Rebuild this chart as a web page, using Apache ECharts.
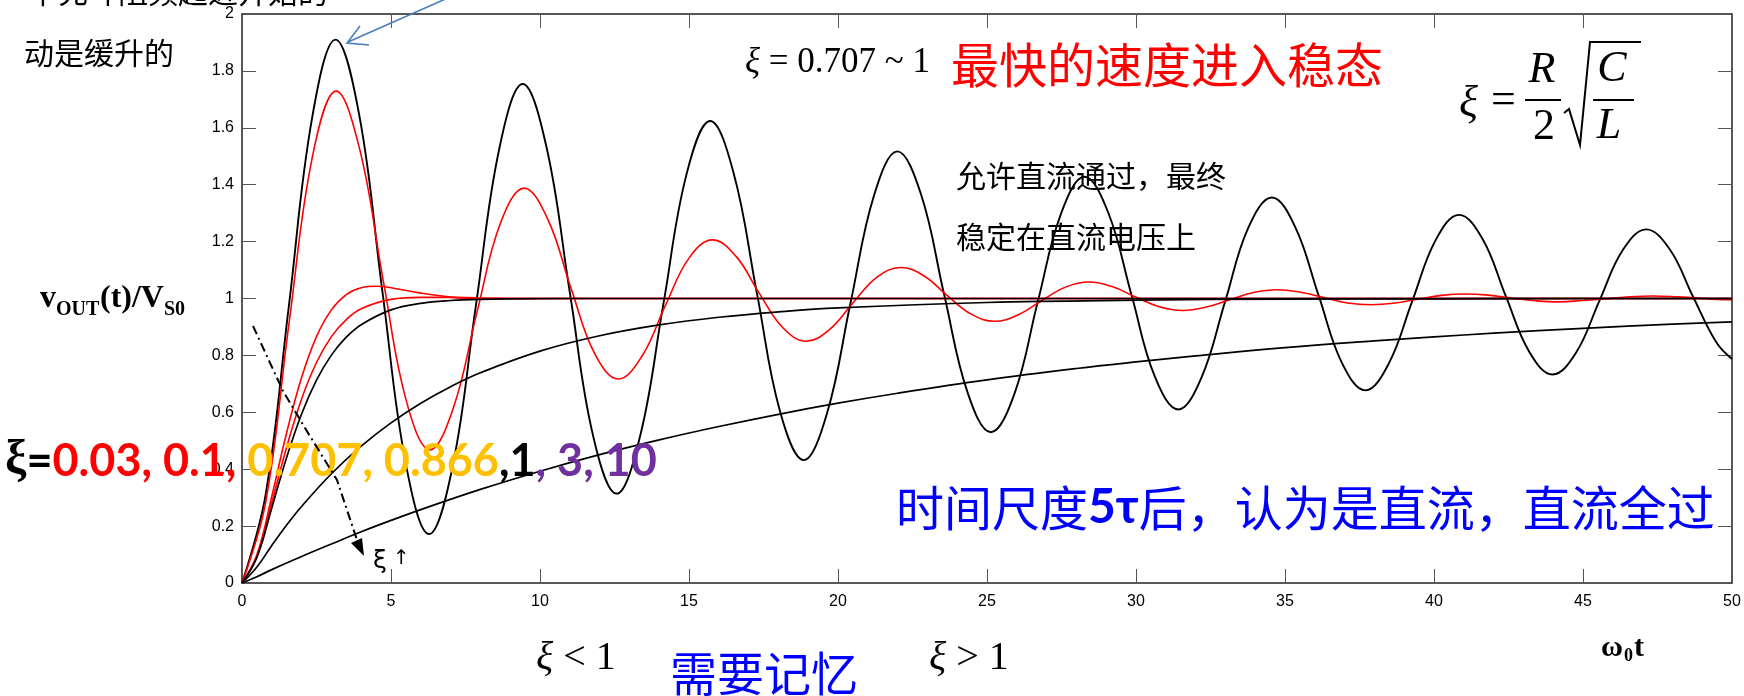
<!DOCTYPE html>
<html>
<head>
<meta charset="utf-8">
<script src="https://cdn.jsdelivr.net/npm/echarts@6/dist/echarts.min.js"></script>
<style>
  html, body { margin: 0; padding: 0; background: #ffffff; }
  #chart { width: 1744px; height: 696px; }
</style>
</head>
<body>
<div id="chart"></div>
<script>
// Step response of a series RLC circuit, vOUT(t)/VS0 against ω0·t, for several damping ratios ξ.

// ξ = 0.03
const t_xi003 = [0,0.79,1.57,2.36,3.14,3.93,4.71,5.50,6.28,7.07,7.85,8.64,9.42,10.21,11.00,11.78,12.57,13.35,14.14,14.92,15.71,16.49,17.28,18.06,18.85,19.63,20.42,21.21,21.99,22.78,23.56,24.35,25.13,25.92,26.70,27.49,28.27,29.06,29.85,30.63,31.42,32.20,32.99,33.77,34.56,35.34,36.13,36.91,37.70,38.48,39.27,40.06,40.84,41.63,42.41,43.20,43.98,44.77,45.55,46.34,47.12,47.91,48.69,49.48,50];
const v_xi003 = [0,0.309,0.971,1.639,1.910,1.647,1.026,0.418,0.172,0.411,0.976,1.530,1.754,1.536,1.022,0.518,0.314,0.512,0.980,1.438,1.624,1.444,1.018,0.601,0.432,0.596,0.984,1.363,1.517,1.368,1.015,0.669,0.530,0.665,0.987,1.300,1.428,1.304,1.012,0.726,0.610,0.723,0.989,1.249,1.355,1.252,1.010,0.774,0.677,0.771,0.991,1.206,1.294,1.209,1.008,0.812,0.733,0.810,0.992,1.171,1.243,1.173,1.007,0.845,0.787];

// ξ = 0.1
const t_xi01 = [0,0.79,1.58,2.37,3.16,3.95,4.74,5.53,6.31,7.10,7.89,8.68,9.47,10.26,11.05,11.84,12.63,13.42,14.21,15.00,15.79,16.58,17.36,18.15,18.94,19.73,20.52,21.31,22.10,22.89,23.68,24.47,25.26,26.05,26.84,27.63,28.42,29.20,29.99,30.78,31.57,32.36,33.15,33.94,34.73,35.52,36.31,37.10,37.89,38.68,39.47,40.25,41.04,41.83,42.62,43.41,44.20,44.99,45.78,46.57,47.36,48.15,48.94,49.73,50];
const v_xi01 = [0,0.281,0.914,1.502,1.729,1.524,1.063,0.634,0.468,0.618,0.954,1.267,1.388,1.279,1.033,0.805,0.717,0.797,0.976,1.142,1.206,1.148,1.018,0.897,0.850,0.892,0.987,1.075,1.109,1.079,1.009,0.945,0.920,0.943,0.993,1.040,1.058,1.042,1.005,0.971,0.958,0.970,0.996,1.021,1.031,1.022,1.003,0.984,0.978,0.984,0.998,1.011,1.016,1.012,1.001,0.992,0.988,0.993,0.999,1.006,1.009,1.006,1.001,0.996,0.996];

// ξ = 0.707
const t_xi0707 = [0,0.5,1,1.5,2,2.5,3,3.5,4,4.5,5,6,7,8,10,20,30,40,50];
const v_xi0707 = [0,0.099,0.305,0.529,0.722,0.866,0.960,1.014,1.038,1.043,1.038,1.019,1.005,0.999,1,1,1,1,1];

// ξ = 0.866
const t_xi0866 = [0,0.5,1,1.5,2,2.5,3,3.5,4,5,6,7,8,10,20,30,40,50];
const v_xi0866 = [0,0.094,0.282,0.478,0.647,0.775,0.866,0.926,0.964,0.997,1.004,1.004,1.002,1,1,1,1,1];

// ξ = 1
const t_xi1 = [0,0.5,1,1.5,2,2.5,3,3.5,4,5,6,7,8,10,12,20,30,40,50];
const v_xi1 = [0,0.090,0.264,0.442,0.594,0.713,0.801,0.864,0.908,0.960,0.983,0.993,0.997,0.9995,1,1,1,1,1];

// ξ = 3
const t_xi3 = [0,0.5,1,1.5,2,3,4,5,6,7,8,10,12,14,16,18,20,25,30,35,40,45,50];
const v_xi3 = [0,0.056,0.132,0.204,0.269,0.384,0.481,0.563,0.632,0.690,0.739,0.815,0.869,0.907,0.934,0.953,0.967,0.986,0.994,0.998,0.999,1,1];

// ξ = 10
const t_xi10 = [0,0.5,1,2,3,4,5,6,8,10,12,14,16,18,20,22,25,28,30,32,35,38,40,42,45,48,50];
const v_xi10 = [0,0.022,0.047,0.093,0.137,0.180,0.220,0.258,0.329,0.393,0.451,0.503,0.550,0.593,0.632,0.667,0.714,0.754,0.777,0.798,0.827,0.851,0.865,0.878,0.895,0.910,0.918];

// axis ranges: [min, max, tick interval]
const xRange = [0, 50, 5];
const yRange = [0, 2, 0.2];

const curves = [
  { name: 'ξ=0.03',  t: t_xi003,  v: v_xi003,  color: '#000000', width: 1.9 },
  { name: 'ξ=0.1',   t: t_xi01,   v: v_xi01,   color: '#ff0000', width: 1.6 },
  { name: 'ξ=0.707', t: t_xi0707, v: v_xi0707, color: '#ff0000', width: 1.6 },
  { name: 'ξ=0.866', t: t_xi0866, v: v_xi0866, color: '#ff0000', width: 1.6 },
  { name: 'ξ=1',     t: t_xi1,    v: v_xi1,    color: '#000000', width: 1.7 },
  { name: 'ξ=3',     t: t_xi3,    v: v_xi3,    color: '#000000', width: 1.7 },
  { name: 'ξ=10',    t: t_xi10,   v: v_xi10,   color: '#000000', width: 1.7 }
];

const CJK = "'Noto Sans CJK SC'";
const SERIF = "'Liberation Serif'";

function txt(x, y, text, font, fill, align, vAlign) {
  return {
    type: 'text', z: 100, x: x, y: y,
    style: {
      text: text, font: font, fill: fill || '#000000',
      textAlign: align || 'left', textVerticalAlign: vAlign || 'middle'
    }
  };
}
function richTxt(x, y, text, rich, align) {
  return {
    type: 'text', z: 100, x: x, y: y,
    style: { text: text, rich: rich, textAlign: align || 'left', textVerticalAlign: 'middle' }
  };
}
function seg(x1, y1, x2, y2, color, w, dash) {
  return {
    type: 'line', z: 100,
    shape: { x1: x1, y1: y1, x2: x2, y2: y2 },
    style: { stroke: color, lineWidth: w, lineDash: dash || null }
  };
}
function poly(points, color, w, dash) {
  return {
    type: 'polyline', z: 100,
    shape: { points: points },
    style: { stroke: color, lineWidth: w, fill: null, lineDash: dash || null }
  };
}

const graphics = [
  // caption lines on the left
  txt(28, -23, '中充斗阻频起近开始的', '30px ' + CJK, '#000000', 'left', 'top'),
  txt(24, 53, '动是缓升的', '30px ' + CJK),

  // pointer to the first overshoot
  seg(450, -3, 348, 42, '#4a7ebb', 1.6),
  poly([[369, 45], [347, 43], [360, 26]], '#4a7ebb', 1.6),

  // fastest settling range
  richTxt(745, 63, '{i|ξ}{n| = 0.707 ~ 1}', {
    i: { font: 'italic 35px ' + SERIF, fill: '#000000' },
    n: { font: '35px ' + SERIF, fill: '#000000' }
  }),
  txt(951, 65, '最快的速度进入稳态', '48px ' + CJK, '#ff0000'),

  // ξ = R/2 · sqrt(C/L)
  txt(1459, 104, 'ξ', 'italic 44px ' + SERIF),
  txt(1491, 101, '=', '44px ' + SERIF),
  txt(1542, 70, 'R', 'italic 44px ' + SERIF, '#000000', 'center'),
  seg(1525, 100, 1561, 100, '#000000', 2),
  txt(1544, 127, '2', '44px ' + SERIF, '#000000', 'center'),
  poly([[1564, 113], [1569, 109], [1580, 145], [1590, 42], [1641, 42]], '#000000', 2),
  txt(1612, 69, 'C', 'italic 44px ' + SERIF, '#000000', 'center'),
  seg(1593, 100, 1634, 100, '#000000', 2),
  txt(1609, 126, 'L', 'italic 44px ' + SERIF, '#000000', 'center'),

  // DC note
  txt(956, 176, '允许直流通过，最终', '30px ' + CJK),
  txt(956, 237, '稳定在直流电压上', '30px ' + CJK),

  // y-axis title vOUT(t)/VS0
  txt(40, 299, 'v', 'bold 32px ' + SERIF),
  txt(56, 310, 'OUT', 'bold 20px ' + SERIF),
  txt(100, 299, '(t)/V', 'bold 32px ' + SERIF),
  txt(164, 310, 'S0', 'bold 20px ' + SERIF),

  // list of damping ratios
  richTxt(5, 461, '{k|ξ}{b|=}{r|0.03, 0.1,}{y| 0.707, 0.866}{b|,1}{p|, 3, 10}', {
    k: { font: 'bold 48px ' + SERIF, fill: '#000000' },
    b: { font: "bold 45px 'Lato'", fill: '#000000' },
    r: { font: "bold 45px 'Lato'", fill: '#ff0000' },
    y: { font: "bold 45px 'Lato'", fill: '#ffc000' },
    p: { font: "bold 45px 'Lato'", fill: '#7030a0' }
  }),

  // dash-dot arrow: increasing ξ
  poly([[253, 326], [283, 391], [305, 428], [337, 480], [357, 540]], '#000000', 2, [9, 4, 2, 4]),
  { type: 'polygon', z: 100, shape: { points: [[364, 556], [351, 543], [362, 538]] }, style: { fill: '#000000' } },
  txt(373, 561, 'ξ', "25px 'DejaVu Sans'"),
  txt(393, 559, '↑', "20px 'DejaVu Sans'"),

  // steady-state note
  richTxt(896, 508, '{c|时间尺度}{b|5τ}{c|后，认为是直流，直流全过}', {
    c: { font: '48px ' + CJK, fill: '#0000ff' },
    b: { font: "bold 48px 'Lato'", fill: '#0000ff' }
  }),

  // bottom notes
  richTxt(536, 658, '{i|ξ}{n| < 1}', {
    i: { font: 'italic 40px ' + SERIF, fill: '#000000' },
    n: { font: '40px ' + SERIF, fill: '#000000' }
  }),
  txt(670, 673, '需要记忆', '47px ' + CJK, '#0000ff'),
  richTxt(929, 658, '{i|ξ}{n| > 1}', {
    i: { font: 'italic 40px ' + SERIF, fill: '#000000' },
    n: { font: '40px ' + SERIF, fill: '#000000' }
  }),

  // x-axis title ω0t
  txt(1601, 648, 'ω', 'bold 30px ' + SERIF),
  txt(1624, 656, '0', 'bold 18px ' + SERIF),
  txt(1634, 648, 't', 'bold 30px ' + SERIF)
];

const frameLine = { show: true, onZero: false, lineStyle: { color: '#222222', width: 1.5 } };
const innerTick = { show: true, inside: true, length: 14, lineStyle: { color: '#555555', width: 1 } };
const tickFont = { color: '#000000', fontSize: 16, fontFamily: 'Liberation Sans' };

const option = {
  animation: false,
  backgroundColor: '#ffffff',
  grid: { left: 242, right: 12, top: 14, bottom: 113, containLabel: false },
  xAxis: [
    {
      type: 'value', position: 'bottom', min: xRange[0], max: xRange[1], interval: xRange[2],
      axisLine: frameLine, axisTick: innerTick, splitLine: { show: false },
      axisLabel: Object.assign({ margin: 11 }, tickFont)
    },
    {
      type: 'value', position: 'top', min: xRange[0], max: xRange[1], interval: xRange[2],
      axisLine: frameLine, axisTick: innerTick, splitLine: { show: false },
      axisLabel: { show: false }
    }
  ],
  yAxis: [
    {
      type: 'value', position: 'left', min: yRange[0], max: yRange[1], interval: yRange[2],
      axisLine: frameLine, axisTick: innerTick, splitLine: { show: false },
      axisLabel: Object.assign({ margin: 8, formatter: function (v) { return String(+v.toFixed(1)); } }, tickFont)
    },
    {
      type: 'value', position: 'right', min: yRange[0], max: yRange[1], interval: yRange[2],
      axisLine: frameLine, axisTick: innerTick, splitLine: { show: false },
      axisLabel: { show: false }
    }
  ],
  series: curves.map(function (c, i) {
    return {
      name: c.name, type: 'line', xAxisIndex: 0, yAxisIndex: 0,
      data: c.t.map(function (t, j) { return [t, c.v[j]]; }),
      showSymbol: false, smooth: 0.4, z: 2 + i,
      lineStyle: { color: c.color, width: c.width },
      itemStyle: { color: c.color }
    };
  }),
  graphic: { elements: graphics }
};

const chart = echarts.init(document.getElementById('chart'), null, { renderer: 'canvas' });
chart.setOption(option);
</script>
</body>
</html>
